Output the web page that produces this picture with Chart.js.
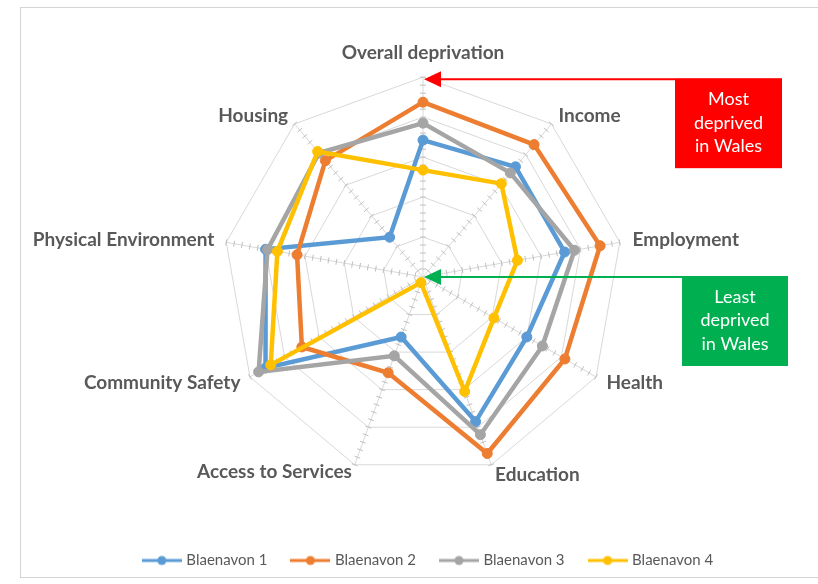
<!DOCTYPE html>
<html>
<head>
<meta charset="utf-8">
<script src="https://cdn.jsdelivr.net/npm/chart.js@4.4.1/dist/chart.umd.min.js"></script>
<style>
  html, body { margin: 0; padding: 0; background: #ffffff; }
  #wrap { position: relative; width: 818px; height: 584px; }
</style>
</head>
<body>
<div id="wrap"><canvas id="c" width="818" height="584"></canvas></div>
<script>
// Deprivation domains (spokes), clockwise from the top
const categories = ['Overall deprivation', 'Income', 'Employment', 'Health', 'Education',
                    'Access to Services', 'Community Safety', 'Physical Environment', 'Housing'];

// Relative deprivation score per area: 0 = least deprived, 100 = most deprived in Wales
const seriesNames = ['Blaenavon 1', 'Blaenavon 2', 'Blaenavon 3', 'Blaenavon 4'];
const blaenavon1 = [68.5, 72, 72, 60, 77, 32, 91, 80, 26];
const blaenavon2 = [87.5, 86.5, 90, 82, 94, 51, 70, 64, 76];
const blaenavon3 = [77, 68, 77, 69, 84, 42, 95, 79, 81];
const blaenavon4 = [53.5, 61, 48, 41, 61, 3, 88, 74, 82];

// Axis range and tick steps
const scaleMin = 0;
const scaleMax = 100;
const majorStep = 20;
const minorStep = 4;

// Call-out texts
const mostText = ['Most', 'deprived', 'in Wales'];
const leastText = ['Least', 'deprived', 'in Wales'];

const seriesColors = ['#5b9bd5', '#ed7d31', '#a5a5a5', '#ffc000'];
// distance of each spoke label beyond the outer ring (labels are centred on that point)
const labelGap = [24, 11, 13, 12, 11, 8, 11, 12, 10];
const textGrey = '#595959';

// Small line-and-marker swatch used as the legend symbol
function legendSwatch(color) {
  const c = document.createElement('canvas');
  c.width = 40; c.height = 12;
  const g = c.getContext('2d');
  g.strokeStyle = color; g.lineWidth = 3;
  g.beginPath(); g.moveTo(0, 6); g.lineTo(40, 6); g.stroke();
  g.fillStyle = color;
  g.beginPath(); g.arc(20, 6, 4.5, 0, Math.PI * 2); g.fill();
  return c;
}

const seriesValues = [blaenavon1, blaenavon2, blaenavon3, blaenavon4];
const datasets = seriesValues.map((vals, i) => ({
  label: seriesNames[i],
  data: vals,
  borderColor: seriesColors[i],
  backgroundColor: seriesColors[i],
  pointBackgroundColor: seriesColors[i],
  pointBorderColor: seriesColors[i],
  borderWidth: 4.5,
  pointRadius: 5,
  pointBorderWidth: 1,
  fill: false,
  tension: 0,
  order: seriesValues.length - i
}));

// White background and light frame around the chart; legend nudged to sit under the plot
const framePlugin = {
  id: 'frame',
  afterLayout(chart) {
    if (chart.legend) {
      chart.legend.left += 12;
      chart.legend.right += 12;
    }
  },
  beforeDraw(chart) {
    const ctx = chart.ctx;
    ctx.save();
    ctx.fillStyle = '#ffffff';
    ctx.fillRect(0, 0, chart.width, chart.height);
    ctx.strokeStyle = '#d4d4d4';
    ctx.lineWidth = 1;
    ctx.strokeRect(20.5, 7.5, chart.width, 570);
    ctx.restore();
  }
};

// Minor tick marks across every spoke
const minorTickPlugin = {
  id: 'minorTicks',
  beforeDatasetsDraw(chart) {
    const scale = chart.scales.r;
    const ctx = chart.ctx;
    ctx.save();
    ctx.strokeStyle = '#bfbfbf';
    ctx.lineWidth = 1;
    ctx.beginPath();
    for (let i = 0; i < categories.length; i++) {
      const a = scale.getIndexAngle(i) - Math.PI / 2;
      const nx = -Math.sin(a), ny = Math.cos(a);
      for (let v = scaleMin + minorStep; v <= scaleMax; v += minorStep) {
        const p = scale.getPointPositionForValue(i, v);
        ctx.moveTo(p.x - nx * 3, p.y - ny * 3);
        ctx.lineTo(p.x + nx * 3, p.y + ny * 3);
      }
    }
    ctx.stroke();
    ctx.restore();
  }
};

// Coloured boxes with arrows pointing at the outer ring and at the centre
const calloutPlugin = {
  id: 'callouts',
  afterDraw(chart) {
    const scale = chart.scales.r;
    const ctx = chart.ctx;
    const outer = scale.getPointPositionForValue(0, scaleMax);
    const centre = scale.getPointPositionForValue(0, scaleMin);
    drawCallout(ctx, outer.x, outer.y + 2, 675, 107, 90, '#ff0000', mostText);
    drawCallout(ctx, centre.x, centre.y, 682, 106, 90, '#00b050', leastText);
  }
};

function drawCallout(ctx, tipX, tipY, boxX, boxW, boxH, color, lines) {
  ctx.save();
  ctx.strokeStyle = color;
  ctx.fillStyle = color;
  ctx.lineWidth = 2;
  ctx.beginPath();
  ctx.moveTo(tipX + 14, tipY);
  ctx.lineTo(boxX, tipY);
  ctx.stroke();
  ctx.beginPath();
  ctx.moveTo(tipX + 1, tipY);
  ctx.lineTo(tipX + 18, tipY - 8);
  ctx.lineTo(tipX + 18, tipY + 8);
  ctx.closePath();
  ctx.fill();
  const boxY = tipY - 1;
  ctx.fillRect(boxX, boxY, boxW, boxH);
  ctx.fillStyle = '#ffffff';
  ctx.font = '18px Lato';
  ctx.textAlign = 'center';
  ctx.textBaseline = 'middle';
  lines.forEach((t, k) => ctx.fillText(t, boxX + boxW / 2, boxY + 21 + k * 23.5));
  ctx.restore();
}

new Chart(document.getElementById('c'), {
  type: 'radar',
  data: { labels: categories, datasets },
  options: {
    responsive: false,
    animation: false,
    layout: { padding: { left: 16, right: 0, top: 41, bottom: 6 } },
    elements: { line: { tension: 0 } },
    scales: {
      r: {
        min: scaleMin,
        max: scaleMax,
        ticks: { display: false, stepSize: majorStep },
        grid: { color: '#d9d9d9', lineWidth: 1 },
        angleLines: { color: '#d9d9d9', lineWidth: 1 },
        pointLabels: {
          color: textGrey,
          // near-zero line height keeps each label vertically centred on its anchor
          font: { family: 'Lato', size: 19, weight: 'bold', lineHeight: 0.01 },
          padding: (ctx) => labelGap[ctx.index]
        }
      }
    },
    plugins: {
      tooltip: { enabled: false },
      legend: {
        position: 'bottom',
        title: { display: true, text: ' ', font: { size: 10, lineHeight: 1 }, padding: { top: 28, bottom: 0 } },
        labels: {
          usePointStyle: true,
          pointStyleWidth: 34,
          boxHeight: 15,
          padding: 26,
          color: textGrey,
          font: { family: 'Lato', size: 15 },
          generateLabels: (chart) => chart.data.datasets.map((ds, i) => ({
            text: ds.label,
            pointStyle: legendSwatch(ds.borderColor),
            fillStyle: ds.borderColor,
            strokeStyle: ds.borderColor,
            lineWidth: 0,
            hidden: false,
            fontColor: textGrey,
            datasetIndex: i
          }))
        }
      }
    }
  },
  plugins: [framePlugin, minorTickPlugin, calloutPlugin]
});
</script>
</body>
</html>
